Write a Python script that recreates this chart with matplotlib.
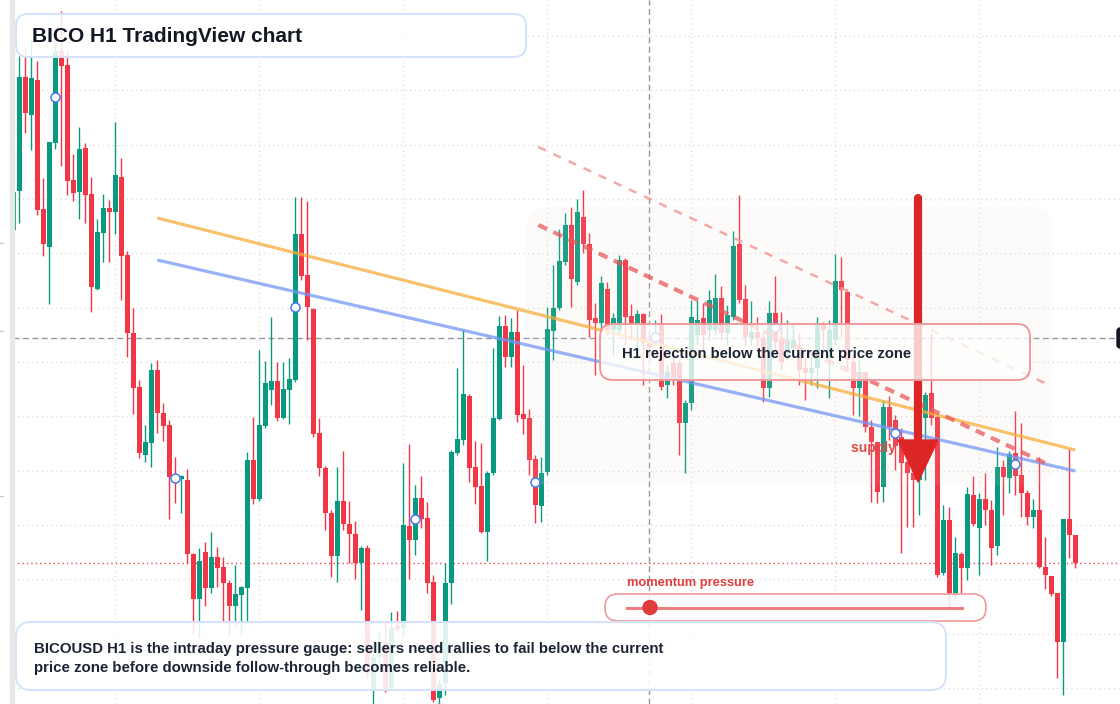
import numpy as np
import matplotlib.pyplot as plt
from matplotlib.patches import FancyBboxPatch, Polygon, Rectangle, Circle
from matplotlib.transforms import IdentityTransform
from matplotlib.lines import Line2D

plt.rcParams['font.family'] = ['Liberation Sans', 'DejaVu Sans']
plt.rcParams['lines.scale_dashes'] = False

# BICOUSD H1 candles, prices in thousandths (chart units)
opens = [770, 809, 923, 885, 920, 791, 753, 857, 949, 935,
         820, 808, 852, 806, 711, 767, 792, 788, 823, 745,
         667, 613, 545, 557, 630, 587, 575, 523, 521, 520,
         446, 401, 448, 412, 443, 433, 417, 394, 405, 412,
         540, 501, 574, 610, 619, 582, 610, 620, 766, 725,
         691, 567, 532, 487, 444, 499, 476, 466, 437, 452,
         310, 343, 358, 312, 374, 372, 474, 460, 502, 482,
         418, 302, 317, 417, 547, 560, 604, 533, 514, 468,
         527, 581, 674, 643, 668, 586, 582, 541, 494, 528,
         669, 692, 738, 775, 718, 783, 756, 682, 677, 711,
         670, 670, 740, 684, 675, 686, 657, 660, 677, 615,
         637, 637, 577, 597, 665, 682, 670, 670, 702, 667,
         683, 756, 701, 662, 668, 662, 612, 687, 660, 650,
         652, 653, 632, 627, 632, 676, 650, 660, 719, 708,
         638, 612, 628, 573, 558, 513, 593, 580, 563, 538,
         527, 520, 582, 607, 583, 427, 480, 407, 446, 432,
         505, 472, 501, 490, 454, 533, 522, 547, 525, 507,
         483, 490, 433, 424, 407, 358, 481, 465]
highs = [810, 944, 953, 960, 939, 822, 858, 960, 989, 950,
         846, 873, 857, 823, 781, 806, 800, 878, 842, 749,
         692, 620, 575, 637, 640, 597, 580, 543, 525, 531,
         447, 452, 458, 468, 453, 443, 420, 435, 414, 548,
         583, 650, 639, 683, 638, 638, 642, 803, 803, 799,
         692, 582, 534, 490, 533, 549, 499, 479, 454, 455,
         360, 368, 378, 388, 389, 537, 556, 515, 524, 498,
         425, 320, 437, 550, 632, 670, 606, 559, 557, 529,
         652, 684, 685, 682, 690, 635, 591, 545, 543, 693,
         735, 771, 787, 793, 801, 810, 767, 697, 724, 718,
         687, 745, 742, 696, 690, 687, 665, 680, 686, 635,
         645, 640, 600, 700, 700, 697, 710, 726, 714, 695,
         769, 805, 715, 699, 683, 670, 699, 724, 688, 680,
         677, 667, 643, 645, 683, 678, 680, 746, 743, 711,
         645, 640, 628, 580, 558, 600, 604, 585, 572, 555,
         540, 545, 608, 667, 585, 495, 493, 463, 448, 513,
         524, 507, 527, 500, 553, 540, 549, 589, 577, 510,
         501, 543, 463, 424, 407, 481, 551, 465]
lows = [768, 777, 867, 850, 785, 744, 696, 851, 834, 805,
        799, 781, 777, 688, 710, 738, 738, 766, 700, 643,
        586, 542, 538, 533, 567, 559, 481, 497, 487, 437,
        365, 362, 394, 407, 413, 377, 365, 375, 365, 378,
        496, 499, 572, 595, 579, 581, 576, 618, 720, 660,
        563, 524, 470, 423, 418, 470, 437, 421, 390, 322,
        294, 337, 308, 310, 368, 363, 421, 445, 472, 407,
        298, 293, 305, 396, 545, 555, 518, 496, 467, 439,
        525, 580, 633, 633, 578, 566, 525, 477, 478, 525,
        640, 690, 735, 693, 715, 747, 663, 625, 670, 665,
        645, 665, 655, 660, 650, 615, 640, 655, 610, 602,
        615, 545, 527, 590, 655, 650, 660, 665, 660, 655,
        680, 697, 655, 655, 650, 598, 603, 650, 630, 640,
        645, 615, 600, 615, 612, 650, 602, 655, 663, 630,
        585, 584, 568, 498, 497, 498, 560, 530, 447, 473,
        473, 485, 520, 575, 423, 425, 390, 400, 407, 420,
        474, 425, 475, 435, 445, 485, 507, 505, 483, 475,
        472, 432, 411, 404, 322, 305, 442, 432]
closes = [808, 923, 887, 922, 790, 756, 858, 949, 934, 819,
          807, 851, 805, 713, 768, 792, 788, 825, 744, 667,
          612, 547, 558, 630, 587, 574, 523, 521, 524, 446,
          401, 439, 412, 443, 432, 417, 394, 406, 413, 540,
          501, 575, 617, 619, 582, 611, 621, 766, 724, 693,
          566, 532, 487, 444, 499, 476, 466, 437, 452, 327,
          343, 358, 311, 372, 371, 475, 460, 502, 481, 417,
          300, 316, 417, 548, 561, 606, 532, 513, 468, 527,
          582, 674, 643, 668, 585, 581, 540, 495, 527, 671,
          692, 739, 775, 721, 788, 756, 680, 677, 717, 670,
          682, 740, 683, 677, 686, 657, 653, 666, 613, 628,
          620, 577, 597, 683, 680, 665, 700, 702, 667, 685,
          754, 700, 663, 668, 662, 612, 687, 658, 638, 660,
          660, 630, 627, 632, 676, 670, 670, 719, 710, 640,
          612, 628, 573, 558, 508, 593, 573, 554, 537, 527,
          520, 530, 605, 582, 425, 480, 407, 447, 432, 506,
          476, 501, 490, 452, 533, 523, 546, 524, 507, 483,
          490, 433, 425, 406, 358, 481, 465, 437]

# drawn levels (chart units)
current_price = 662
signal_level = 437
zone_x = [85.6, 173.1]
zone_y = [515, 793]
orange_x, orange_y = [24, 177], [782, 550]
blue_x, blue_y = [24, 177], [740, 529]
res_x, res_y = [87.5, 173], [775, 534]
res2_x, res2_y = [87.5, 173], [853, 614]

o = np.array(opens) / 1000
h = np.array(highs) / 1000
l = np.array(lows) / 1000
c = np.array(closes) / 1000
x = np.arange(len(o))

W, H = 1120, 704
fig = plt.figure(figsize=(W / 100, H / 100), dpi=100)
ax = fig.add_axes([0, 0, 1, 1])
ax.set_xlim(-2.217, 184.45)
ax.set_ylim(0.296, 1.0)
ax.axis('off')

# grid
for gy in np.arange(0.312, 0.97, 0.05433):
    ax.axhline(gy, xmin=0.012, color='#d8d8d8', lw=1, dashes=(0.8, 2.6), zorder=0.5)
for gx in np.arange(17, 178, 24):
    ax.axvline(gx - 0.05, color='#d8d8d8', lw=1, dashes=(0.8, 2.6), zorder=0.5)

ax.axhline(signal_level / 1000, xmin=0.012, color='#e5484d', lw=1, dashes=(1, 2.2), zorder=1)
ax.axhline(current_price / 1000, xmin=0.012, xmax=0.996, color='#9598a1', lw=1,
           dashes=(4.3, 2.5), zorder=1)
ax.axvline(105.95, color='#9598a1', lw=1, dashes=(4.3, 2.5), zorder=1)

# candles
up = c >= o
col = np.where(up, '#089981', '#f23645')
ax.vlines(x, l, h, colors=col, lw=1, zorder=2)
ax.bar(x, np.maximum(np.abs(c - o), 0.0015), bottom=np.minimum(o, c), width=0.78,
       color=col, linewidth=0, zorder=3)

# price zone
zone = FancyBboxPatch((zone_x[0], zone_y[0] / 1000), zone_x[1] - zone_x[0],
                      (zone_y[1] - zone_y[0]) / 1000,
                      boxstyle='round,pad=0,rounding_size=3.3', mutation_aspect=0.006,
                      facecolor='#f3ddcc', edgecolor='none', alpha=0.09, zorder=4)
ax.add_patch(zone)

# trend lines
ax.plot(orange_x, np.array(orange_y) / 1000, color='#f8ad3c', lw=2.3, alpha=0.75, zorder=5,
        solid_capstyle='butt')
ax.plot(blue_x, np.array(blue_y) / 1000, color='#7397f3', lw=2.3, alpha=0.75, zorder=5,
        solid_capstyle='butt')
ax.plot(res_x, np.array(res_y) / 1000, color='#e75a5a', lw=3, alpha=0.75,
        dashes=(7, 5), zorder=5)
ax.plot(res2_x, np.array(res2_y) / 1000, color='#f29a9a', lw=1.8, alpha=0.85,
        dashes=(6, 6), zorder=5)

# markers every 20 bars
mk = np.arange(7, len(o), 20)
ax.plot(mk, (o[mk] + c[mk]) / 2, 'o', ms=6.5, mfc='white', mec='#4a78f0', mew=1.1, zorder=6)

ident = IdentityTransform()


def box(x0, y0, x1, y1, r, ec, fc, alpha, z, lw=1.2):
    p = FancyBboxPatch((x0, H - y1), x1 - x0, y1 - y0,
                       boxstyle='round,pad=0,rounding_size=%g' % r,
                       transform=ident, facecolor=fc, edgecolor='none', alpha=alpha, zorder=z)
    fig.add_artist(p)
    e = FancyBboxPatch((x0, H - y1), x1 - x0, y1 - y0,
                       boxstyle='round,pad=0,rounding_size=%g' % r,
                       transform=ident, facecolor='none', edgecolor=ec, lw=lw, zorder=z)
    fig.add_artist(e)


# left strip and cut price tag
fig.add_artist(Rectangle((10, 0), 4, H, transform=ident, color='#e8e8e8', zorder=1))
for ty in [243, 331, 496]:
    fig.add_artist(Line2D([0, 3], [H - ty, H - ty], transform=ident, color='#c8c8c8', lw=0.8, zorder=1))
fig.add_artist(FancyBboxPatch((1117, H - 348), 12, 20, boxstyle='round,pad=0,rounding_size=3',
                              transform=ident, color='#131722', zorder=8))

# supply label and arrow
fig.text(851, H - 448, 'supply zone', transform=ident, color='#e04848', fontsize=10,
         fontweight='bold', va='center', zorder=4)
fig.add_artist(Line2D([918, 918], [H - 198, H - 445], transform=ident, color='#dc2626',
                      lw=5.9, solid_capstyle='round', zorder=5))
fig.add_artist(Polygon([(898, H - 440), (938, H - 440), (918, H - 482)], closed=True,
                       transform=ident, color='#dc2626', zorder=5))

# boxes
box(16, 14, 526, 57, 12, '#d3e2fb', 'white', 0.88, 6, lw=1.4)
fig.text(32, H - 36, 'BICO H1 TradingView chart', transform=ident, fontsize=15,
         fontweight='bold', color='#131722', va='center', zorder=7)

box(600, 324, 1030, 380, 13, '#ef9a9a', 'white', 0.78, 6, lw=1.4)
fig.text(622, H - 354, 'H1 rejection below the current price zone', transform=ident,
         fontsize=10.7, fontweight='bold', color='#1c2433', va='center', zorder=7)

fig.text(627, H - 583, 'momentum pressure', transform=ident, fontsize=9.3,
         fontweight='bold', color='#e23b3b', va='center', zorder=7)
box(605, 594, 986, 621, 13, '#f09a9a', 'white', 0.85, 6, lw=1.2)
fig.add_artist(Line2D([627, 962], [H - 607.5, H - 607.5], transform=ident, color='#ef7f7f',
                      lw=2.2, zorder=7))
fig.add_artist(Circle((650, H - 607.5), 7, transform=ident, color='#e03c3c', zorder=7))

box(16, 622, 946, 690, 15, '#d3e2fb', 'white', 0.88, 6, lw=1.4)
fig.text(34, H - 658.5,
         'BICOUSD H1 is the intraday pressure gauge: sellers need rallies to fail below the current\n'
         'price zone before downside follow-through becomes reliable.',
         transform=ident, fontsize=10.8, fontweight='bold', color='#1c2433', va='center',
         linespacing=1.42, zorder=7)

fig.savefig('out.png', dpi=100)
